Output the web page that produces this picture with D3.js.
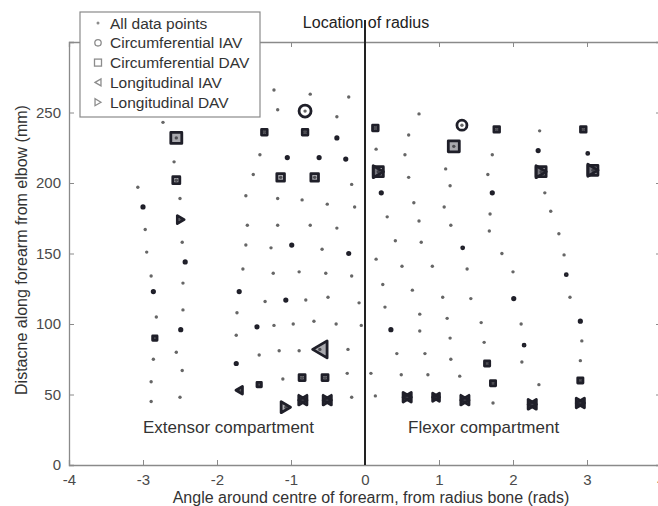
<!DOCTYPE html>
<html>
<head>
<meta charset="utf-8">
<script src="https://cdn.jsdelivr.net/npm/d3@7"></script>
<style>
body { margin: 0; background: #fff; }
svg { font-family: "Liberation Sans", Arial, sans-serif; }
</style>
</head>
<body>
<svg id="chart" width="658" height="506"></svg>
<script>
// every measurement site: angle (rads) and distance from elbow (mm)
var ptX = [-3.07,-3.00,-2.97,-2.95,-2.89,-2.86,-2.82,-2.84,-2.86,-2.89,-2.89,
    -2.73,-2.55,-2.58,-2.55,-2.50,-2.49,-2.47,-2.43,-2.46,-2.46,-2.49,-2.55,-2.47,-2.50,
    -1.36,-1.42,-1.51,-1.61,-1.59,-1.61,-1.65,-1.70,-1.73,-1.74,-1.74,-1.70,-1.46,-1.43,-1.43,-1.35,
    -1.23,-1.18,-1.05,-1.14,-1.18,-1.18,-1.27,-0.99,-1.24,-1.07,-1.23,-1.16,-1.11,-1.07,
    -0.74,-0.81,-0.81,-0.62,-0.68,-0.85,-0.74,-0.58,-0.89,-0.80,-0.97,-0.69,-0.89,-0.61,-0.85,-0.84,
    -0.22,-0.38,-0.38,-0.26,-0.18,-0.51,-0.14,-0.38,-0.22,-0.53,-0.18,-0.50,-0.08,-0.39,-0.05,-0.23,-0.54,-0.24,-0.51,-0.18,
    0.73,0.14,1.31,1.78,2.36,2.95,0.59,1.20,0.15,2.34,1.72,0.54,3.01,0.18,2.38,3.08,1.09,1.66,0.59,1.15,0.22,1.72,2.43,
    0.66,1.07,2.51,0.30,1.69,0.73,1.16,1.68,2.62,0.41,0.76,1.32,1.85,2.69,0.15,0.50,0.91,1.38,2.00,2.72,
    0.24,0.64,1.05,1.43,2.01,2.77,0.27,0.74,1.11,1.57,2.11,2.91,0.35,0.74,1.15,1.61,2.15,2.93,
    0.43,0.81,1.16,1.65,2.12,2.91,0.08,0.49,0.85,1.28,1.73,2.35,2.91,0.14,0.57,0.96,1.35,1.73,2.26,2.91];
var ptY = [197,183,167,151,134,123,105,90,75,59,45,
    243,232,215,202,189,174,158,144,129,110,96,80,67,48,
    236,220,206,191,170,156,139,123,108,92,72,53,98,78,57,116,
    266,252,218,204,189,170,154,156,136,117,99,81,61,41,
    263,251,236,218,204,188,170,153,137,117,100,102,81,82,62,46,
    261,247,232,217,199,185,183,168,150,136,134,119,115,100,99,82,62,65,46,48,
    249,239,241,238,237,238,234,226,224,223,220,220,221,208,208,209,210,206,204,198,193,193,193,
    186,183,180,176,178,173,170,166,164,159,158,154,150,149,146,141,141,139,137,135,
    128,124,119,118,118,119,112,107,104,101,100,102,96,95,90,87,85,88,
    79,79,75,72,73,74,65,64,64,63,58,57,60,49,48,48,46,44,43,44];

// circumferential IAV
var civX = [-0.81,1.31,-3.00,-2.86,-2.43,-2.49,-1.70,-1.46,-1.74,-1.07,-1.05,-0.62,-0.26,-0.38,-0.99,-0.22,0.22,1.72,2.34,3.01,1.32,0.35,2.01,2.91,2.15,2.72];
var civY = [251,241,183,123,144,96,123,98,72,117,218,218,217,232,156,150,193,193,223,221,154,96,118,102,85,135];
var civV = [6,5,1.2,1.2,1.2,1.2,1.2,1.2,1.2,1.2,1.2,1.2,1.2,1.2,1.2,1.2,1.2,1.2,1.2,1.0,1.0,1.2,1.2,1.2,1.0,1.0];

// circumferential DAV
var cdvX = [-2.55,1.20,-2.55,-1.14,-0.68,-1.36,-0.81,0.14,1.78,2.95,-0.85,-0.54,1.65,1.73,2.91,-1.43,-2.84,0.18,2.38,3.08];
var cdvY = [232,226,202,204,204,236,236,239,238,238,62,62,72,58,60,57,90,208,208,209];
var cdvV = [5.5,5.5,3.5,3.8,3.8,2.8,2.8,2.8,2.8,2.8,3,3,2.6,2.6,2.6,2.2,2.2,5,5,5];

// longitudinal IAV
var livX = [-0.61,-1.70,-0.84,-0.51,0.57,0.96,1.35,2.26,2.91];
var livY = [82,53,46,46,48,48,46,43,44];
var livV = [8.5,3.8,4.8,4.8,4.8,4,4.8,4.8,4.8];

// longitudinal DAV
var ldvX = [-2.49,-1.07,0.18,2.38,3.08,-0.84,-0.51,0.57,0.96,1.35,2.26,2.91];
var ldvY = [174,41,208,208,209,46,46,48,48,46,43,44];
var ldvV = [4,5.5,6,6,6,4.8,4.8,4.8,4,4.8,4.8,4.8];

var xTicks = [-4,-3,-2,-1,0,1,2,3,4];
var yTicks = [0,50,100,150,200,250];
var legendNames = ["All data points","Circumferential IAV","Circumferential DAV","Longitudinal IAV","Longitudinal DAV"];

var svg = d3.select("#chart");
var mLeft = 69, mRight = 661, mTop = 42, mBottom = 465;

var x = d3.scaleLinear().domain([-4, 4]).range([mLeft, mRight]);
var y = d3.scaleLinear().domain([0, 300]).range([mBottom, mTop]);
var size = d3.scaleLinear().domain([0, 10]).range([0, 10]);

var axisColor = "#8a8a8a";
var markColor = "#1f1f29";

// box + ticks on all four sides
svg.append("g").attr("transform", "translate(0," + mBottom + ")")
    .call(d3.axisBottom(x).tickValues(xTicks).tickSize(-5).tickPadding(9).tickFormat(function(d) { return String(d); }));
svg.append("g").attr("transform", "translate(0," + mTop + ")")
    .call(d3.axisTop(x).tickValues(xTicks).tickSize(-5).tickFormat(""));
svg.append("g").attr("transform", "translate(" + mLeft + ",0)")
    .call(d3.axisLeft(y).tickValues(yTicks).tickSize(-5).tickPadding(8));
svg.append("g").attr("transform", "translate(" + mRight + ",0)")
    .call(d3.axisRight(y).tickValues(yTicks).tickSize(-5).tickFormat(""));

svg.selectAll(".domain").attr("stroke", axisColor).attr("stroke-width", 1.3);
svg.selectAll(".tick line").attr("stroke", axisColor);
svg.selectAll(".tick text").attr("fill", "#4a4a4a").style("font-size", "15px")
    .style("font-family", "'Liberation Sans', Arial, sans-serif");

// all points
svg.append("g").selectAll("circle")
    .data(ptX)
    .enter().append("circle")
    .attr("cx", function(d) { return x(d); })
    .attr("cy", function(d, i) { return y(ptY[i]); })
    .attr("r", 1.7)
    .attr("fill", "#666");

function triPath(s, dir) {
    // dir = -1 points left, 1 points right
    var w = 0.85 * s;
    return "M" + (dir * w) + ",0L" + (-dir * w) + "," + (-s) + "L" + (-dir * w) + "," + s + "Z";
}

function drawMarks(xs, ys, vs, kind, sw, fill) {
    var g = svg.append("g");
    xs.forEach(function(d, i) {
        var cx = x(d), cy = y(ys[i]), s = size(vs[i]);
        if (kind == "circle") {
            g.append("circle").attr("cx", cx).attr("cy", cy).attr("r", s);
        } else if (kind == "square") {
            g.append("rect").attr("x", cx - s).attr("y", cy - s).attr("width", 2 * s).attr("height", 2 * s);
        } else {
            g.append("path").attr("transform", "translate(" + cx + "," + cy + ")")
                .attr("d", triPath(s, kind == "left" ? -1 : 1));
        }
    });
    g.selectAll("*").attr("fill", fill).attr("stroke", markColor)
        .attr("stroke-width", sw).attr("stroke-linejoin", "round");
}

drawMarks(cdvX, cdvY, cdvV, "square", 2.8, "rgba(40,40,52,0.4)");
drawMarks(civX, civY, civV, "circle", 2.8, "none");
drawMarks(livX, livY, livV, "left", 2.8, "rgba(40,40,52,0.4)");
drawMarks(ldvX, ldvY, ldvV, "right", 2.8, "rgba(40,40,52,0.4)");

// radius line
svg.append("line")
    .attr("x1", x(0)).attr("x2", x(0))
    .attr("y1", 20).attr("y2", mBottom)
    .attr("stroke", "#222").attr("stroke-width", 2);

svg.append("text").attr("x", x(0) + 1).attr("y", 28)
    .attr("text-anchor", "middle").style("font-size", "16px").attr("fill", "#222")
    .text("Location of radius");

svg.append("text").attr("x", 143).attr("y", 433)
    .style("font-size", "17px").attr("fill", "#333").text("Extensor compartment");
svg.append("text").attr("x", 408).attr("y", 433)
    .style("font-size", "17px").attr("fill", "#333").text("Flexor compartment");

svg.append("text").attr("x", 371).attr("y", 503)
    .attr("text-anchor", "middle").style("font-size", "16px").attr("fill", "#333")
    .text("Angle around centre of forearm, from radius bone (rads)");
svg.append("text").attr("transform", "translate(27,250) rotate(-90)")
    .attr("text-anchor", "middle").style("font-size", "16px").attr("fill", "#333")
    .text("Distacne along forearm from elbow (mm)");

// legend
var lg = svg.append("g");
lg.append("rect").attr("x", 80).attr("y", 12).attr("width", 180).attr("height", 105)
    .attr("fill", "#fff").attr("stroke", "#8a8a8a").attr("stroke-width", 1.2);
var legColor = "#8c8c8c";
legendNames.forEach(function(name, i) {
    var ly = 23 + i * 19.8;
    if (i == 0) {
        lg.append("circle").attr("cx", 98).attr("cy", ly).attr("r", 1.5).attr("fill", legColor);
    } else if (i == 1) {
        lg.append("circle").attr("cx", 98).attr("cy", ly).attr("r", 3.2)
            .attr("fill", "none").attr("stroke", legColor).attr("stroke-width", 1.3);
    } else if (i == 2) {
        lg.append("rect").attr("x", 94.5).attr("y", ly - 3.5).attr("width", 7).attr("height", 7)
            .attr("fill", "none").attr("stroke", legColor).attr("stroke-width", 1.3);
    } else {
        lg.append("path").attr("transform", "translate(98," + ly + ")")
            .attr("d", triPath(3.5, i == 3 ? -1 : 1))
            .attr("fill", "none").attr("stroke", legColor).attr("stroke-width", 1.3);
    }
    lg.append("text").attr("x", 110).attr("y", ly + 5.5)
        .style("font-size", "15.5px").attr("fill", "#333").text(name);
});
</script>
</body>
</html>
